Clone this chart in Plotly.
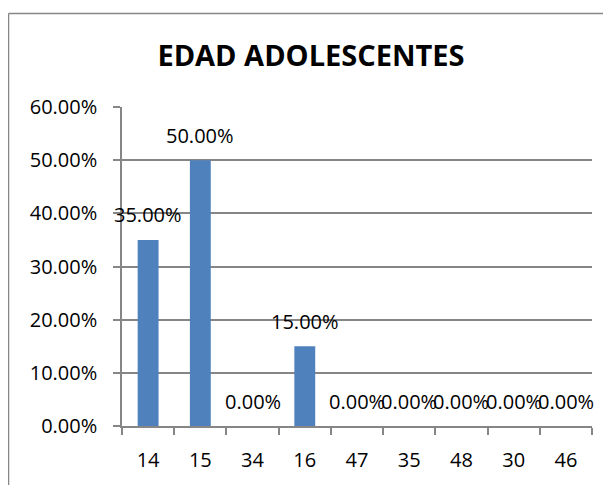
import plotly.graph_objects as go

# Data
ages = ["14", "15", "34", "16", "47", "35", "48", "30", "46"]
shares = [0.35, 0.50, 0.0, 0.15, 0.0, 0.0, 0.0, 0.0, 0.0]
y_ticks = [0.0, 0.1, 0.2, 0.3, 0.4, 0.5, 0.6]

# the page body adds an 8px margin, so the figure is sized to fit inside it
W, H = 603, 477
L, R, T, B = 114, 19, 99, 57
GRAY = "#868686"
FONT = "Open Sans"


def px_to_paper_x(px):
    return (px - L) / (W - L - R)


def px_to_paper_y(py):
    return 1 - (py - T) / (H - T - B)


fig = go.Figure()
fig.add_trace(go.Bar(
    x=ages,
    y=shares,
    marker_color="#4F81BD",
    marker_line_width=0,
    width=0.4,
))

# data labels above each bar (category index positions)
for i, s in enumerate(shares):
    fig.add_annotation(
        x=i, y=s, text=f"{s * 100:.2f}%", showarrow=False,
        yshift=25, yanchor="middle", xanchor="center",
        font=dict(family=FONT, size=20, color="black"),
    )

# chart frame (left and top edges only, as in the picture)
fig.add_shape(type="line", xref="paper", yref="paper",
              x0=px_to_paper_x(0.5), y0=px_to_paper_y(5),
              x1=px_to_paper_x(0.5), y1=px_to_paper_y(H + 5),
              line=dict(color=GRAY, width=1.5))
fig.add_shape(type="line", xref="paper", yref="paper",
              x0=px_to_paper_x(0.5), y0=px_to_paper_y(5),
              x1=px_to_paper_x(W + 5), y1=px_to_paper_y(5),
              line=dict(color=GRAY, width=1.5))

fig.update_layout(
    width=W, height=H,
    margin=dict(l=L, r=R, t=T, b=B),
    paper_bgcolor="white",
    plot_bgcolor="white",
    showlegend=False,
    title=dict(text="<b>EDAD ADOLESCENTES</b>", x=303 / W, xanchor="center",
               y=1 - 48 / H, yanchor="middle",
               font=dict(family=FONT, size=29, color="black")),
    font=dict(family=FONT, size=20, color="black"),
)

fig.update_xaxes(
    type="category",
    range=[-0.5, len(ages) - 0.5],
    showline=True, linecolor=GRAY, linewidth=1.5,
    ticks="outside", tickson="boundaries", ticklen=7, tickcolor=GRAY,
    tickwidth=1.5, ticklabelstandoff=15, tickangle=0,
    showgrid=False,
    tickfont=dict(family=FONT, size=20, color="black"),
)
fig.update_yaxes(
    range=[0, 0.6],
    tickvals=y_ticks, tickformat=".2%",
    showline=True, linecolor=GRAY, linewidth=1.5,
    ticks="outside", ticklen=7, tickcolor=GRAY, tickwidth=1.5,
    ticklabelstandoff=12,
    showgrid=True, gridcolor=GRAY, gridwidth=1.5,
    zeroline=False,
    tickfont=dict(family=FONT, size=20, color="black"),
)

fig.write_html("out.html")
